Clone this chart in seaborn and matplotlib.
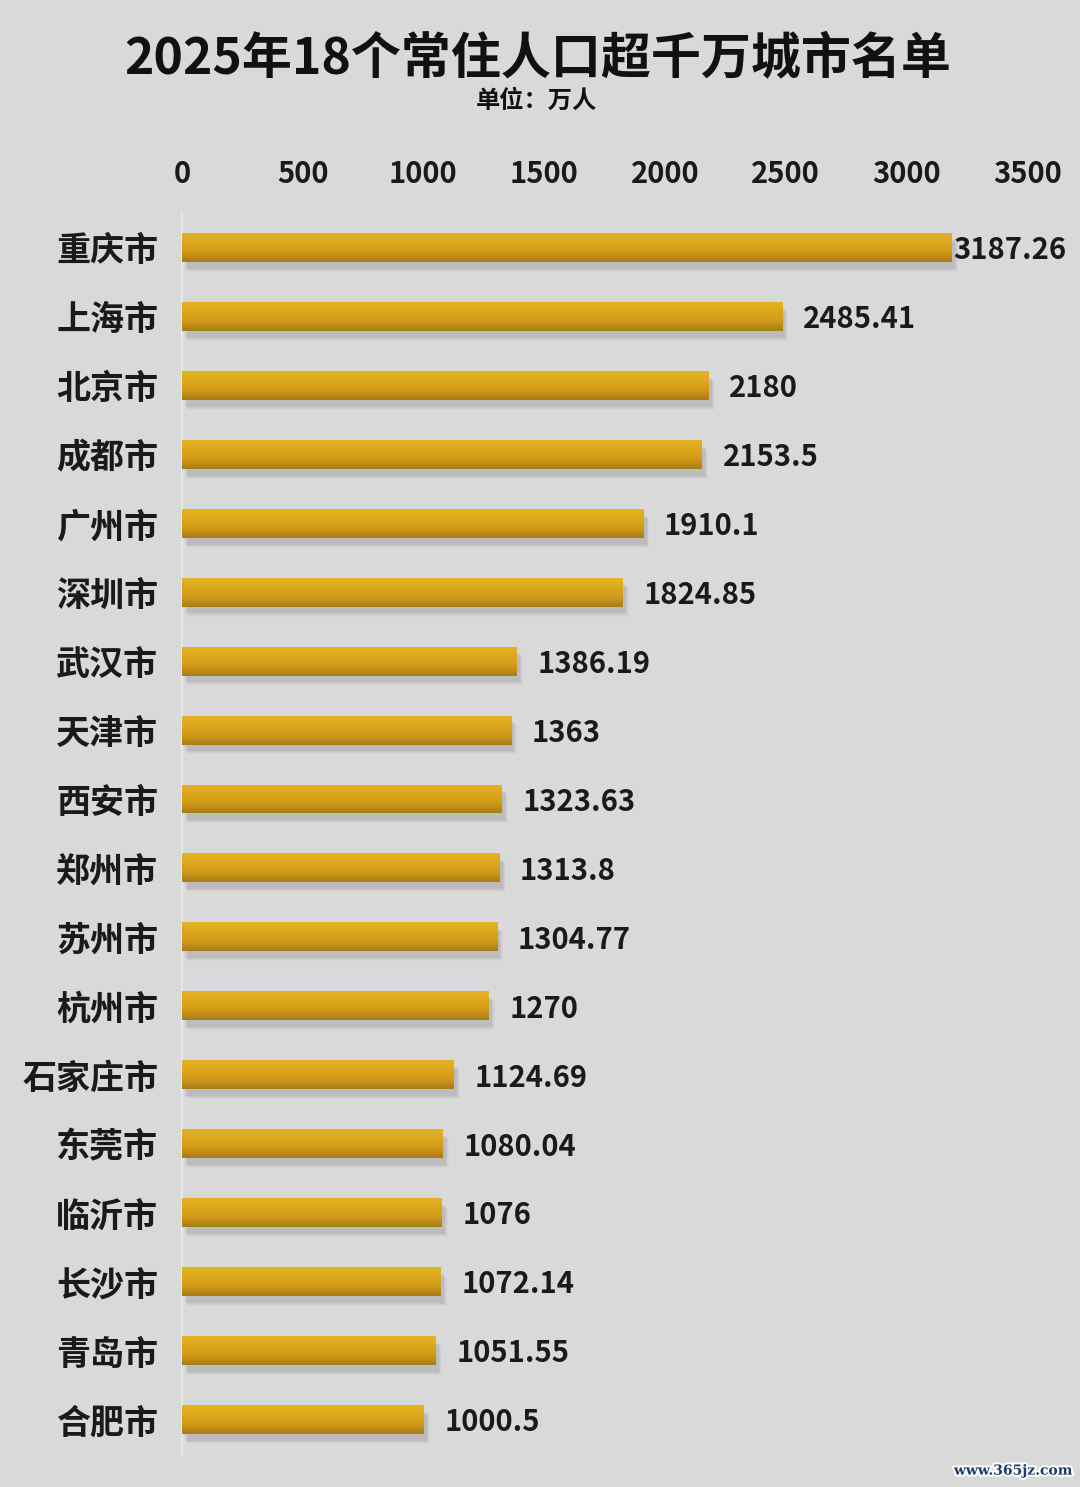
import numpy as np
import pandas as pd
import matplotlib
matplotlib.use("Agg")
import matplotlib.pyplot as plt
import matplotlib.patheffects as pe
from matplotlib.colors import LinearSegmentedColormap
import seaborn as sns

# data
cities = ['重庆市', '上海市', '北京市', '成都市', '广州市', '深圳市', '武汉市', '天津市',
          '西安市', '郑州市', '苏州市', '杭州市', '石家庄市', '东莞市', '临沂市', '长沙市',
          '青岛市', '合肥市']
population = [3187.26, 2485.41, 2180, 2153.5, 1910.1, 1824.85, 1386.19, 1363,
              1323.63, 1313.8, 1304.77, 1270, 1124.69, 1080.04, 1076, 1072.14,
              1051.55, 1000.5]
value_labels = ['3187.26', '2485.41', '2180', '2153.5', '1910.1', '1824.85', '1386.19', '1363',
                '1323.63', '1313.8', '1304.77', '1270', '1124.69', '1080.04', '1076', '1072.14',
                '1051.55', '1000.5']
x_ticks = [0, 500, 1000, 1500, 2000, 2500, 3000, 3500]

df = pd.DataFrame({'city': cities, 'pop': population})

bg = '#d9d9d9'
sns.set_theme(style='white')
plt.rcParams['font.family'] = ['Noto Sans CJK SC', 'DejaVu Sans']
plt.rcParams['font.weight'] = 'heavy'

fig = plt.figure(figsize=(10.8, 14.87), dpi=100, facecolor=bg)
ax = fig.add_axes([0.1685, 0.0222, 0.951 - 0.1685, 0.8346])
ax.set_facecolor(bg)

sns.barplot(data=df, x='pop', y='city', orient='h', color='#daa520', width=0.42,
            saturation=1, linewidth=0, edgecolor='none', ax=ax, zorder=3)

# gold gradient + soft shadow on each bar
gold = LinearSegmentedColormap.from_list('gold', ['#e6b422', '#dca71d', '#d09a18', '#a87d15'])
grad = np.linspace(0, 1, 64).reshape(-1, 1)
for p in ax.patches:
    x0, y0 = p.get_x(), p.get_y()
    w, h = p.get_width(), p.get_height()
    for k, a in [(1, 0.10), (2, 0.08), (3, 0.06), (4, 0.04)]:
        ax.add_patch(plt.Rectangle((x0 + 10 + k * 4, y0 + h * 0.2 + k * 0.015), w, h,
                                   color='#6e6e6e', alpha=a, lw=0, zorder=2))
    im = ax.imshow(grad, cmap=gold, aspect='auto', extent=(x0, x0 + w, y0 + h, y0),
                   zorder=3.5, interpolation='bicubic')
    im.set_clip_path(p)

ax.set_xlim(0, 3500)
ax.set_ylim(17.5, -0.5)
ax.set_xticks(x_ticks)
ax.xaxis.tick_top()
ax.tick_params(axis='x', length=0, pad=17, labelsize=21, labelcolor='#1a1a1a')
ax.tick_params(axis='y', length=0, pad=17, labelsize=24.5, labelcolor='#1a1a1a')
ax.set_xlabel('')
ax.set_ylabel('')
for s in ['top', 'right', 'bottom']:
    ax.spines[s].set_visible(False)
ax.spines['left'].set_color('#ececec')
ax.spines['left'].set_linewidth(1.2)
ax.grid(False)

for i, (v, lab) in enumerate(zip(population, value_labels)):
    off = 1 if v > 3100 else 15
    ax.annotate(lab, xy=(v, i), xytext=(off, -2), textcoords='offset points',
                ha='left', va='center', fontsize=21, fontweight='heavy', color='#1a1a1a',
                zorder=5)

fig.text(0.498, 0.9595, '2025年18个常住人口超千万城市名单', ha='center', va='center',
         fontsize=36, fontweight='heavy', color='#111111')
fig.text(0.497, 0.932, '单位：万人', ha='center', va='center',
         fontsize=17.5, fontweight='heavy', color='#111111')
fig.text(0.993, 0.011, 'www.365jz.com', ha='right', va='center', fontsize=10,
         family='DejaVu Serif', color='#1f3a6b',
         path_effects=[pe.withStroke(linewidth=3, foreground='white')])

fig.savefig('out.png', dpi=100, facecolor=bg)
